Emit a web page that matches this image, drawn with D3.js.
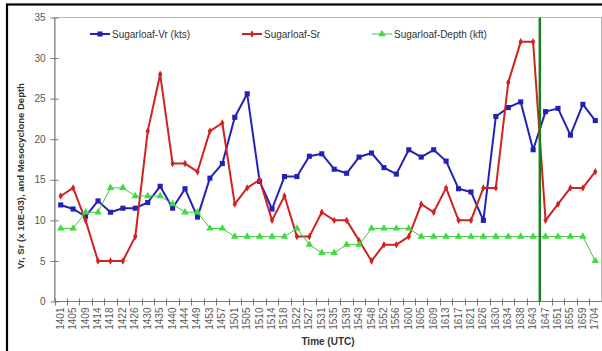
<!DOCTYPE html>
<html>
<head>
<meta charset="utf-8">
<script src="https://cdn.jsdelivr.net/npm/d3@7"></script>
<style>
  html, body { margin: 0; padding: 0; background: #fff; }
  svg { display: block; }
  text { font-family: "Liberation Sans", Arial, sans-serif; }
</style>
</head>
<body>
<svg id="chart" width="602" height="351"></svg>
<script>
// Observation times (UTC)
const categories = ["1401","1405","1409","1414","1418","1422","1426","1430","1435","1440","1444",
  "1449","1453","1457","1501","1505","1510","1514","1518","1522","1527","1531","1535","1539",
  "1543","1548","1552","1556","1600","1605","1609","1613","1617","1621","1626","1630","1634",
  "1638","1643","1647","1651","1655","1659","1704"];

// Rotational velocity (kts)
const vr = [11.9,11.4,10.5,12.4,11.0,11.5,11.5,12.2,14.2,11.5,13.9,
  10.4,15.2,17.0,22.7,25.6,14.8,11.4,15.4,15.4,17.9,18.2,16.3,15.8,
  17.8,18.3,16.5,15.7,18.7,17.8,18.7,17.3,13.9,13.5,10.0,22.8,23.9,
  24.6,18.7,23.4,23.8,20.5,24.3,22.3];

// Shear (x 10E-03)
const sr = [13,14,10,5,5,5,8,21,28,17,17,
  16,21,22,12,14,15,10,13,8,8,11,10,10,
  7.5,5,7,7,8,12,11,14,10,10,14,14,27,
  32,32,10,12,14,14,16];

// Mesocyclone depth (kft)
const depth = [9,9,11,11,14,14,13,13,13,12,11,
  11,9,9,8,8,8,8,8,9,7,6,6,7,
  7,9,9,9,9,8,8,8,8,8,8,8,8,
  8,8,8,8,8,8,5];

const yTicks = [0,5,10,15,20,25,30,35];
const seriesNames = ["Sugarloaf-Vr (kts)", "Sugarloaf-Sr", "Sugarloaf-Depth (kft)"];
const eventTime = "1647";   // vertical marker drawn at the start of this interval

const svg = d3.select("#chart");
const plot = { left: 54.5, right: 601.5, top: 17.5, bottom: 301.5 };

// outer frame
svg.append("rect").attr("x", 0).attr("y", 0).attr("width", 602).attr("height", 351).attr("fill", "#fff");
svg.append("rect").attr("x", 7).attr("y", 4.5).attr("width", 800).attr("height", 600)
  .attr("fill", "none").attr("stroke", "#000").attr("stroke-width", 2.2);

const x = d3.scaleBand().domain(categories).range([plot.left, plot.right]).padding(0);
const y = d3.scaleLinear().domain([0, 35]).range([plot.bottom, plot.top]);
const cx = d => x(d) + x.bandwidth() / 2;

// plot area border
svg.append("rect").attr("x", plot.left).attr("y", plot.top)
  .attr("width", plot.right - plot.left).attr("height", plot.bottom - plot.top)
  .attr("fill", "none").attr("stroke", "#b8b8b8").attr("stroke-width", 1);

// y axis
const yAxis = d3.axisLeft(y).tickValues(yTicks).tickSizeInner(4).tickSizeOuter(0).tickPadding(5);
const gy = svg.append("g").attr("transform", `translate(${plot.left},0)`).call(yAxis);
gy.select(".domain").attr("stroke", "#7a7a7a");
gy.selectAll(".tick line").attr("stroke", "#7a7a7a").attr("x1", 4);
gy.selectAll(".tick text").attr("font-size", 10).attr("fill", "#555")
  .attr("font-family", "Liberation Sans, Arial, sans-serif");

// x axis: ticks sit between categories
const gx = svg.append("g").attr("transform", `translate(0,${plot.bottom})`);
gx.append("line").attr("x1", plot.left).attr("x2", plot.right).attr("stroke", "#7a7a7a");
const bounds = categories.map(c => x(c)).concat([plot.right]);
gx.selectAll("line.tk").data(bounds).join("line").attr("class", "tk")
  .attr("x1", d => Math.round(d) + 0.5).attr("x2", d => Math.round(d) + 0.5)
  .attr("y1", -3).attr("y2", 4).attr("stroke", "#7a7a7a");
gx.selectAll("text").data(categories).join("text")
  .attr("transform", d => `translate(${cx(d) + 3},6) rotate(-90)`)
  .attr("text-anchor", "end").attr("font-size", 10).attr("fill", "#5a5a5a").text(d => d);

// axis titles
svg.append("text").attr("transform", `translate(23.5,176) rotate(-90)`)
  .attr("text-anchor", "middle").attr("font-size", 9.5).attr("font-weight", "bold").attr("fill", "#333")
  .text("Vr, Sr (x 10E-03), and Mesocyclone Depth");
svg.append("text").attr("x", (plot.left + plot.right) / 2).attr("y", 345)
  .attr("text-anchor", "middle").attr("font-size", 10).attr("font-weight", "bold").attr("fill", "#333")
  .text("Time (UTC)");

// series
const styles = [
  { data: vr, color: "#2222b4", width: 2, marker: d3.symbolSquare, size: 26, fill: "#2222b4" },
  { data: sr, color: "#d02222", width: 2, marker: d3.symbolDiamond, size: 16, fill: "#d02222" },
  { data: depth, color: "#3ccc3c", width: 1, marker: d3.symbolTriangle, size: 24, fill: "#3cdc3c" }
];
const line = d3.line().x((d, i) => cx(categories[i])).y(d => y(d));

styles.forEach(s => {
  svg.append("path").datum(s.data).attr("d", line)
    .attr("fill", "none").attr("stroke", s.color).attr("stroke-width", s.width)
    .attr("stroke-linejoin", "round");
  svg.append("g").selectAll("path").data(s.data).join("path")
    .attr("transform", (d, i) => `translate(${cx(categories[i])},${y(d)})`)
    .attr("d", d3.symbol().type(s.marker).size(s.size)).attr("fill", s.fill);
});

// event marker line
svg.append("line").attr("x1", x(eventTime) + 0.5).attr("x2", x(eventTime) + 0.5)
  .attr("y1", plot.top).attr("y2", plot.bottom)
  .attr("stroke", "#1a7f1a").attr("stroke-width", 2.5);

// legend
const legendX = [90, 242, 372];
seriesNames.forEach((name, i) => {
  const s = styles[i];
  const g = svg.append("g").attr("transform", `translate(${legendX[i]},34)`);
  g.append("line").attr("x1", 0).attr("x2", 20).attr("stroke", s.color).attr("stroke-width", s.width);
  g.append("path").attr("transform", "translate(10,0)")
    .attr("d", d3.symbol().type(s.marker).size(s.size)).attr("fill", s.fill);
  g.append("text").attr("x", 22).attr("y", 3.5).attr("font-size", 10).attr("fill", "#333").text(name);
});
</script>
</body>
</html>
